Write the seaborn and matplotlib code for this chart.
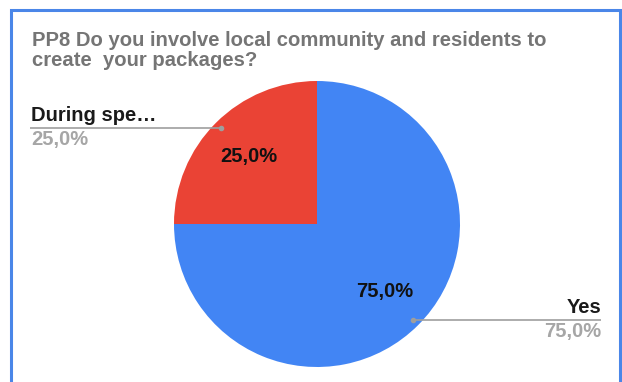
import numpy as np
import matplotlib
matplotlib.use("Agg")
import matplotlib.pyplot as plt
import seaborn as sns

# Survey answers and their shares (percent)
categories = ["Yes", "During spe…"]
shares = [75.0, 25.0]
pct_labels = ["75,0%", "25,0%"]
title_text = "PP8 Do you involve local community and residents to\ncreate  your packages?"

sns.set_theme(style="white")
plt.rcParams["font.family"] = ["Liberation Sans", "DejaVu Sans"]

colors = ["#4285f4", "#ea4335"]

W, H = 622, 382
fig = plt.figure(figsize=(W / 100, H / 100), dpi=100)
ax = fig.add_axes([0, 0, 1, 1])


def py(y):
    """Convert a top-down pixel row into the axis' bottom-up coordinate."""
    return H - y


cx, cy, r = 317, py(224), 143
wedges, _ = ax.pie(shares, colors=colors, startangle=90, counterclock=False,
                   center=(cx, cy), radius=r, frame=True,
                   wedgeprops=dict(linewidth=0))
ax.set_xlim(0, W)
ax.set_ylim(0, H)
ax.set_aspect("equal")
ax.axis("off")

# Percentages inside the slices, leader lines and outer labels
for i, w in enumerate(wedges):
    mid = np.deg2rad((w.theta1 + w.theta2) / 2)
    ux, uy = np.cos(mid), np.sin(mid)
    ax.text(cx + 0.67 * r * ux, cy + 0.67 * r * uy, pct_labels[i],
            ha="center", va="center", fontsize=14.5, fontweight="bold",
            color="#111111")
    dx, dy = cx + 0.95 * r * ux, cy + 0.95 * r * uy
    end_x = 30 if ux < 0 else 601
    ax.plot([dx, end_x], [dy, dy], color="#9e9e9e", lw=1.2, solid_capstyle="butt")
    ax.plot(dx, dy, "o", ms=3, color="#9e9e9e")
    ha = "left" if ux < 0 else "right"
    tx = 31 if ux < 0 else 601
    ax.text(tx, dy + 3, categories[i], ha=ha, va="bottom", fontsize=14.5,
            fontweight="bold", color="#1a1a1a")
    ax.text(tx, dy - 2, pct_labels[i], ha=ha, va="top", fontsize=14.5,
            fontweight="bold", color="#a6a6a6")

# Chart title
fig.text(32 / W, 1 - 31 / H, title_text, ha="left", va="top", fontsize=14.6,
         fontweight="bold", color="#757575", linespacing=1.08)

# Frame around the chart (open at the bottom)
frame_color = "#4a86e8"
ax.plot([11, 11, 620, 620], [0, py(10), py(10), 0], color=frame_color, lw=2.2,
        solid_joinstyle="miter", clip_on=False)

fig.savefig("out.png", dpi=100)
